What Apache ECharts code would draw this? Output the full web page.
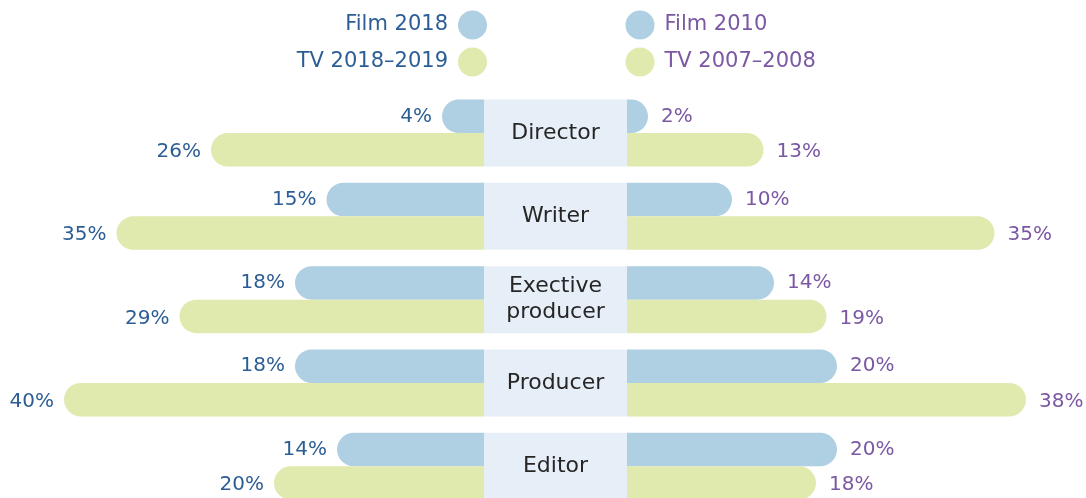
<!DOCTYPE html>
<html>
<head>
<meta charset="utf-8">
<script src="https://cdn.jsdelivr.net/npm/echarts@6/dist/echarts.min.js"></script>
<style>
  html, body { margin: 0; padding: 0; background: #fff; }
  #main { width: 1086px; height: 498px; }
</style>
</head>
<body>
<div id="main"></div>
<script>
// roles, top to bottom
var roles = ['Director', 'Writer', 'Exective\nproducer', 'Producer', 'Editor'];
// left side: 2018
var film2018 = [4, 15, 18, 18, 14];
var tv2018 = [26, 35, 29, 40, 20];
// right side: older years
var film2010 = [2, 10, 14, 20, 20];
var tv2007 = [13, 35, 19, 38, 18];
var panel = [1, 1, 1, 1, 1];

var FILM = '#afcfe3';
var TV = '#e0eaae';
var BLUE = '#2c5e95';
var PURPLE = '#7b58a3';
var FONT = 'DejaVu Sans';
var BH = 33.5;

var chart = echarts.init(document.getElementById('main'));

// one legend per entry so the circles line up
function legendItem(name, color, pos, textColor, align) {
  var l = {
    data: [{ name: name, itemStyle: { color: color } }],
    icon: 'circle',
    itemWidth: 39,
    itemHeight: 29,
    align: align,
    top: pos.top,
    padding: 0,
    selectedMode: false,
    textStyle: { color: textColor, fontSize: 21, fontFamily: FONT }
  };
  if (pos.left != null) l.left = pos.left;
  if (pos.right != null) l.right = pos.right;
  return l;
}

function sideBar(name, data, color, axis, textColor, side, dy) {
  var r = BH / 2;
  return {
    name: name,
    type: 'bar',
    xAxisIndex: axis,
    yAxisIndex: axis,
    data: data,
    barWidth: BH,
    barGap: '0%',
    itemStyle: {
      color: color,
      borderRadius: side === 'left' ? [r, 0, 0, r] : [0, r, r, 0]
    },
    label: {
      show: true,
      position: side,
      distance: side === 'left' ? 10 : 13,
      offset: [0, dy],
      formatter: '{c}%',
      color: textColor,
      fontSize: 20,
      fontFamily: FONT
    },
    silent: true
  };
}

var gridTop = 91.4, gridH = 416.5;

chart.setOption({
  animation: false,
  legend: [
    legendItem('Film 2018', FILM, { right: 599, top: 10.5 }, BLUE, 'right'),
    legendItem('TV 2018–2019', TV, { right: 599, top: 47.5 }, BLUE, 'right'),
    legendItem('Film 2010', FILM, { left: 625.5, top: 10.5 }, PURPLE, 'left'),
    legendItem('TV 2007–2008', TV, { left: 625.5, top: 47.5 }, PURPLE, 'left')
  ],
  grid: [
    { left: 64, width: 420, top: gridTop, height: gridH, outerBoundsMode: 'none' },
    { left: 627, width: 420, top: gridTop, height: gridH, outerBoundsMode: 'none' },
    { left: 484, width: 143, top: gridTop, height: gridH, outerBoundsMode: 'none' }
  ],
  xAxis: [
    { gridIndex: 0, type: 'value', min: 0, max: 40, inverse: true, show: false },
    { gridIndex: 1, type: 'value', min: 0, max: 40, show: false },
    { gridIndex: 2, type: 'value', min: 0, max: 1, show: false }
  ],
  yAxis: [
    { gridIndex: 0, type: 'category', data: roles, inverse: true, show: false },
    { gridIndex: 1, type: 'category', data: roles, inverse: true, show: false },
    { gridIndex: 2, type: 'category', data: roles, inverse: true, show: false }
  ],
  series: [
    sideBar('Film 2018', film2018, FILM, 0, BLUE, 'left', 0),
    sideBar('TV 2018–2019', tv2018, TV, 0, BLUE, 'left', 2),
    sideBar('Film 2010', film2010, FILM, 1, PURPLE, 'right', 0),
    sideBar('TV 2007–2008', tv2007, TV, 1, PURPLE, 'right', 2),
    {
      type: 'bar',
      xAxisIndex: 2,
      yAxisIndex: 2,
      data: panel,
      barWidth: BH * 2,
      itemStyle: { color: '#e6eff7' },
      label: {
        show: true,
        position: 'inside',
        formatter: '{b}',
        color: '#262626',
        fontSize: 22,
        lineHeight: 26,
        fontFamily: FONT
      },
      silent: true
    }
  ]
});
</script>
</body>
</html>
